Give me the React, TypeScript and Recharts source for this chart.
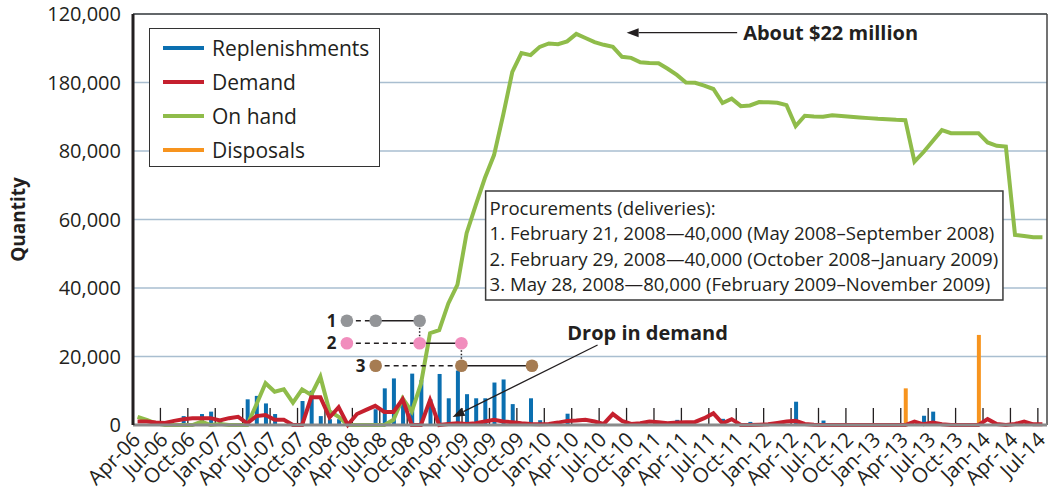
import React from 'react';
import {
  ComposedChart,
  Bar,
  Line,
  XAxis,
  YAxis,
  CartesianGrid,
  Legend,
  ReferenceLine,
  ReferenceDot,
  ReferenceArea,
} from 'recharts';

const FONT = '"Open Sans", "Noto Sans", sans-serif';
const INK = '#231f20';

// ---------- categories ----------
const months = [
  'Apr-06', 'May-06', 'Jun-06', 'Jul-06', 'Aug-06', 'Sep-06', 'Oct-06', 'Nov-06', 'Dec-06',
  'Jan-07', 'Feb-07', 'Mar-07', 'Apr-07', 'May-07', 'Jun-07', 'Jul-07', 'Aug-07', 'Sep-07', 'Oct-07', 'Nov-07', 'Dec-07',
  'Jan-08', 'Feb-08', 'Mar-08', 'Apr-08', 'May-08', 'Jun-08', 'Jul-08', 'Aug-08', 'Sep-08', 'Oct-08', 'Nov-08', 'Dec-08',
  'Jan-09', 'Feb-09', 'Mar-09', 'Apr-09', 'May-09', 'Jun-09', 'Jul-09', 'Aug-09', 'Sep-09', 'Oct-09', 'Nov-09', 'Dec-09',
  'Jan-10', 'Feb-10', 'Mar-10', 'Apr-10', 'May-10', 'Jun-10', 'Jul-10', 'Aug-10', 'Sep-10', 'Oct-10', 'Nov-10', 'Dec-10',
  'Jan-11', 'Feb-11', 'Mar-11', 'Apr-11', 'May-11', 'Jun-11', 'Jul-11', 'Aug-11', 'Sep-11', 'Oct-11', 'Nov-11', 'Dec-11',
  'Jan-12', 'Feb-12', 'Mar-12', 'Apr-12', 'May-12', 'Jun-12', 'Jul-12', 'Aug-12', 'Sep-12', 'Oct-12', 'Nov-12', 'Dec-12',
  'Jan-13', 'Feb-13', 'Mar-13', 'Apr-13', 'May-13', 'Jun-13', 'Jul-13', 'Aug-13', 'Sep-13', 'Oct-13', 'Nov-13', 'Dec-13',
  'Jan-14', 'Feb-14', 'Mar-14', 'Apr-14', 'May-14', 'Jun-14', 'Jul-14',
];

// ---------- series ----------
const replenishments = [
  0, 0, 0, 0, 0, 2600, 0, 3200, 3900, 1750,
  0, 0, 7500, 8500, 6300, 3200, 0, 0, 7000, 10000,
  2600, 1700, 1700, 0, 0, 0, 4600, 10700, 13600, 7800,
  15000, 13100, 7500, 14900, 7800, 15900, 9000, 7800, 7800, 12400,
  13300, 6100, 0, 7800, 1400, 0, 0, 3300, 0, 0,
  0, 0, 0, 0, 0, 0, 0, 0, 0, 1500,
  0, 0, 0, 0, 1800, 0, 0, 900, 0, 0,
  0, 0, 6800, 0, 0, 1300, 0, 0, 0, 0,
  0, 0, 0, 0, 0, 0, 2700, 3900, 0, 0,
  0, 0, 0, 0, 0, 0, 0, 0, 0, 0,
];

const demand = [
  1000, 1000, 700, 600, 1200, 1700, 2000, 2000, 2000, 1300,
  2000, 2400, 500, 2600, 2900, 1500, 1500, 0, 0, 8100,
  8100, 2200, 5200, 0, 3200, 4400, 5600, 3800, 3800, 7500,
  0, 0, 7300, 0, 300, 500, 300, 500, 1000, 1500,
  1000, 800, 500, 300, 200, 300, 700, 1200, 1300, 1500,
  1000, 300, 3200, 1200, 300, 500, 1000, 800, 500, 700,
  800, 900, 2000, 3400, 500, 1700, 0, 0, 100, 200,
  600, 1000, 1200, 300, 100, 0, 0, 0, 0, 0,
  0, 0, 0, 0, 0, 1000, 200, 700, 200, 0,
  0, 0, 0, 1700, 300, 0, 300, 1000, 200, 200,
];

const onHand = [
  2400, 1500, 500, 0, 0, 0, 0, 1000, 0, 300,
  0, 0, 0, 6000, 12200, 9700, 10400, 6500, 10400, 8800,
  14100, 4000, 2400, 0, 0, 0, 0, 0, 1500, 7800,
  3900, 12000, 26800, 27700, 35500, 41000, 56000, 64200, 72100, 78800,
  90500, 103100, 108600, 108000, 110400, 111400, 111200, 112000, 114200, 113000,
  111800, 111000, 110400, 107500, 107200, 105900, 105700, 105600, 104000, 102200,
  100000, 99900, 99100, 98100, 94000, 95300, 93100, 93300, 94300, 94200,
  94100, 93400, 87300, 90300, 90100, 90000, 90400, 90200, 90000, 89800,
  89600, 89400, 89300, 89100, 89000, 76900, 79700, 82900, 86100, 85200,
  85200, 85200, 85200, 82500, 81500, 81300, 55500, 55200, 54800, 54800,
];

const disposals = [
  0, 0, 0, 0, 0, 0, 0, 0, 0, 0,
  0, 0, 0, 0, 0, 0, 0, 0, 0, 0,
  0, 0, 0, 0, 0, 0, 0, 0, 0, 0,
  0, 0, 0, 0, 0, 0, 0, 0, 0, 0,
  0, 0, 0, 0, 0, 0, 0, 0, 0, 0,
  0, 0, 0, 0, 0, 0, 0, 0, 0, 0,
  0, 0, 0, 0, 0, 0, 0, 0, 0, 0,
  0, 0, 0, 0, 0, 0, 0, 0, 0, 0,
  0, 0, 0, 0, 10700, 0, 0, 0, 0, 0,
  0, 0, 26300, 0, 0, 0, 0, 0, 0, 0,
];

// ---------- tick labels ----------
const xTickLabels = [
  'Apr-06', 'Jul-06', 'Oct-06', 'Jan-07', 'Apr-07', 'Jul-07', 'Oct-07', 'Jan-08', 'Apr-08', 'Jul-08',
  'Oct-08', 'Jan-09', 'Apr-09', 'Jul-09', 'Oct-09', 'Jan-10', 'Apr-10', 'Jul-10', 'Oct-10', 'Jan-11',
  'Apr-11', 'Jul-11', 'Oct-11', 'Jan-12', 'Apr-12', 'Jul-12', 'Oct-12', 'Jan-13', 'Apr-13', 'Jul-13',
  'Oct-13', 'Jan-14', 'Apr-14', 'Jul-14',
];
const yTicks = [0, 20000, 40000, 60000, 80000, 100000, 120000];
const yTickLabels = ['0', '20,000', '40,000', '60,000', '80,000', '180,000', '120,000'];

const legendOrder = ['Replenishments', 'Demand', 'On hand', 'Disposals'];

const procurementLines = [
  'Procurements (deliveries):',
  '1. February 21, 2008\u201440,000 (May 2008\u2013September 2008)',
  '2. February 29, 2008\u201440,000 (October 2008\u2013January 2009)',
  '3. May 28, 2008\u201480,000 (February 2009\u2013November 2009)',
];

// procurement timeline diagram (month index / quantity coordinates)
const timelineRows = [
  { label: '1', y: 30450, color: '#939598', points: [22.9, 26.05, 30.86] },
  { label: '2', y: 23850, color: '#f18dbd', points: [22.9, 30.86, 35.43] },
  { label: '3', y: 17300, color: '#a67c52', points: [26.05, 35.43, 43.15] },
];

const COLORS = {
  Replenishments: '#0b6fb0',
  Demand: '#c5202e',
  'On hand': '#8fbc4a',
  Disposals: '#f7941e',
};

const xTickIndex = xTickLabels.map((l) => months.indexOf(l));

const data = months.map((m, i) => ({
  idx: i,
  month: m,
  replenishments: replenishments[i],
  demand: demand[i],
  onHand: onHand[i],
  disposals: disposals[i],
}));

function XTick(props: any) {
  const { x, y, payload } = props;
  const label = months[payload.value];
  const ax = x + 4;
  const ay = y + 16;
  return (
    <text
      x={ax}
      y={ay}
      textAnchor="end"
      fontSize={20.5}
      fontFamily={FONT}
      fill={INK}
      transform={`rotate(-45 ${ax} ${ay})`}
    >
      {label}
    </text>
  );
}

function QuantityLabel(props: any) {
  const vb = props.viewBox || { x: 0, y: 14, width: 133, height: 411 };
  const cx = vb.x + 18;
  const cy = vb.y + vb.height / 2;
  return (
    <text
      x={cx}
      y={cy}
      textAnchor="middle"
      dominantBaseline="central"
      transform={`rotate(-90 ${cx} ${cy})`}
      fontSize={19}
      fontWeight={700}
      fontFamily={FONT}
      fill={INK}
    >
      Quantity
    </text>
  );
}

function ProcurementText(props: any) {
  const vb = props.viewBox || { x: 486, y: 191, width: 517, height: 109 };
  return (
    <g>
      {procurementLines.map((t, i) => (
        <text
          key={i}
          x={vb.x + 4}
          y={vb.y + 16.7 + i * 25.2}
          dominantBaseline="central"
          fontSize={18.6}
          fontFamily={FONT}
          fill={INK}
        >
          {t}
        </text>
      ))}
    </g>
  );
}

function makeArrow(text: string, place: 'right' | 'above') {
  return (p: any) => {
    const x1 = Number(p.x1);
    const y1 = Number(p.y1);
    const x2 = Number(p.x2);
    const y2 = Number(p.y2);
    const ang = Math.atan2(y2 - y1, x2 - x1);
    const L = 12;
    const Wd = 4.5;
    const bx = x2 - L * Math.cos(ang);
    const by = y2 - L * Math.sin(ang);
    const px = -Math.sin(ang) * Wd;
    const py = Math.cos(ang) * Wd;
    const tx = place === 'right' ? x1 + 6 : x1 + 50;
    const ty = place === 'right' ? y1 : y1 - 12;
    return (
      <g>
        <line x1={x1} y1={y1} x2={bx} y2={by} stroke={INK} strokeWidth={1.3} />
        <polygon
          points={`${x2},${y2} ${bx + px},${by + py} ${bx - px},${by - py}`}
          fill={INK}
        />
        <text
          x={tx}
          y={ty}
          textAnchor={place === 'right' ? 'start' : 'middle'}
          dominantBaseline="central"
          fontSize={20}
          fontWeight={700}
          fontFamily={FONT}
          fill={INK}
        >
          {text}
        </text>
      </g>
    );
  };
}

function renderLegend(props: any) {
  const payload: any[] = props.payload || [];
  const items = legendOrder.map(
    (name) => payload.find((p) => p.value === name) || { value: name, color: (COLORS as any)[name] }
  );
  return (
    <div
      style={{
        width: 231,
        height: 139,
        boxSizing: 'border-box',
        border: '1.5px solid #333',
        background: '#fff',
        paddingTop: 2,
      }}
    >
      {items.map((it) => (
        <div
          key={it.value}
          style={{ display: 'flex', alignItems: 'center', height: 34 }}
        >
          <span
            style={{
              display: 'inline-block',
              width: 41,
              height: 4,
              marginLeft: 12.5,
              marginRight: 8.5,
              background: (COLORS as any)[it.value] || it.color,
            }}
          />
          <span
            style={{
              fontSize: 21,
              fontFamily: FONT,
              color: INK,
              lineHeight: '34px',
            }}
          >
            {it.value}
          </span>
        </div>
      ))}
    </div>
  );
}

export default function App() {
  return (
    <div
      style={{
        position: 'absolute',
        left: 0,
        top: 0,
        width: 1052,
        height: 494,
        background: '#fff',
      }}
    >
      <ComposedChart
        width={1052}
        height={494}
        data={data}
        margin={{ top: 14, right: 5, bottom: 0, left: 0 }}
      >
        <CartesianGrid
          vertical={false}
          stroke="#a9bed0"
          strokeWidth={1.5}
        />
        <XAxis
          dataKey="idx"
          type="number"
          domain={[-0.5, 99.5]}
          ticks={xTickIndex}
          interval={0}
          height={69}
          tickLine={false}
          tickSize={0}
          tickMargin={0}
          tick={<XTick />}
          axisLine={{ stroke: '#8a8a8a', strokeWidth: 3 }}
        />
        <YAxis
          type="number"
          domain={[0, 120000]}
          ticks={yTicks}
          interval={0}
          width={133}
          tickLine={false}
          tickSize={0}
          tickMargin={12}
          tickFormatter={(v: number) => yTickLabels[yTicks.indexOf(v)]}
          tick={{ fontSize: 20, fontFamily: FONT, fill: INK }}
          axisLine={{ stroke: INK, strokeWidth: 3 }}
          label={<QuantityLabel />}
        />

        {/* frame: top and right border */}
        <ReferenceLine y={120000} stroke="#444" strokeWidth={1.5} />
        <ReferenceLine x={99.5} stroke="#444" strokeWidth={1.5} />

        {/* x tick marks at quarter boundaries */}
        {xTickIndex.map((i) => (
          <ReferenceLine
            key={`tm-${i}`}
            segment={[
              { x: i - 0.5, y: 0 },
              { x: i - 0.5, y: 5000 },
            ]}
            stroke={INK}
            strokeWidth={1.3}
          />
        ))}

        {/* procurement text box */}
        <ReferenceArea
          x1={38.08}
          x2={94.68}
          y1={36500}
          y2={68330}
          fill="#fff"
          fillOpacity={1}
          stroke="#3a3a3a"
          strokeWidth={1.5}
          label={<ProcurementText />}
        />

        <Bar
          dataKey="replenishments"
          name="Replenishments"
          stackId="s"
          fill={COLORS.Replenishments}
          barSize={4}
          isAnimationActive={false}
        />
        <Bar
          dataKey="disposals"
          name="Disposals"
          stackId="s"
          fill={COLORS.Disposals}
          barSize={4}
          isAnimationActive={false}
        />
        <Line
          dataKey="onHand"
          name="On hand"
          type="linear"
          stroke={COLORS['On hand']}
          strokeWidth={4}
          dot={false}
          activeDot={false}
          isAnimationActive={false}
        />
        <Line
          dataKey="demand"
          name="Demand"
          type="linear"
          stroke={COLORS.Demand}
          strokeWidth={4}
          dot={false}
          activeDot={false}
          isAnimationActive={false}
        />

        {/* timeline connectors */}
        {timelineRows.map((r) => (
          <ReferenceLine
            key={`dash-${r.label}`}
            segment={[
              { x: r.points[0], y: r.y },
              { x: r.points[1], y: r.y },
            ]}
            stroke={INK}
            strokeWidth={1.5}
            strokeDasharray="5 4"
          />
        ))}
        {timelineRows.map((r) => (
          <ReferenceLine
            key={`solid-${r.label}`}
            segment={[
              { x: r.points[1], y: r.y },
              { x: r.points[2], y: r.y },
            ]}
            stroke={INK}
            strokeWidth={1.5}
          />
        ))}
        {timelineRows.slice(0, 2).map((r, k) => (
          <ReferenceLine
            key={`dot-${r.label}`}
            segment={[
              { x: r.points[2], y: r.y },
              { x: r.points[2], y: timelineRows[k + 1].y },
            ]}
            stroke={INK}
            strokeWidth={1.5}
            strokeDasharray="1.5 2"
          />
        ))}
        {timelineRows.map((r) =>
          r.points.map((px, j) => (
            <ReferenceDot
              key={`d-${r.label}-${j}`}
              x={px}
              y={r.y}
              r={6.3}
              fill={r.color}
              stroke="none"
              label={
                j === 0
                  ? {
                      value: r.label,
                      position: 'left',
                      offset: 4,
                      fontSize: 17,
                      fontWeight: 700,
                      fontFamily: FONT,
                      fill: INK,
                    }
                  : undefined
              }
            />
          ))
        )}

        {/* annotation arrows */}
        <ReferenceLine
          segment={[
            { x: 65.6, y: 114550 },
            { x: 53.51, y: 114550 },
          ]}
          shape={makeArrow('About $22 million', 'right')}
        />
        <ReferenceLine
          segment={[
            { x: 50.33, y: 23360 },
            { x: 34.47, y: 2336 },
          ]}
          shape={makeArrow('Drop in demand', 'above')}
        />

        <Legend
          layout="vertical"
          align="center"
          verticalAlign="middle"
          content={renderLegend}
          wrapperStyle={{ left: 149, top: 28, width: 231, height: 139 }}
        />
      </ComposedChart>
    </div>
  );
}
